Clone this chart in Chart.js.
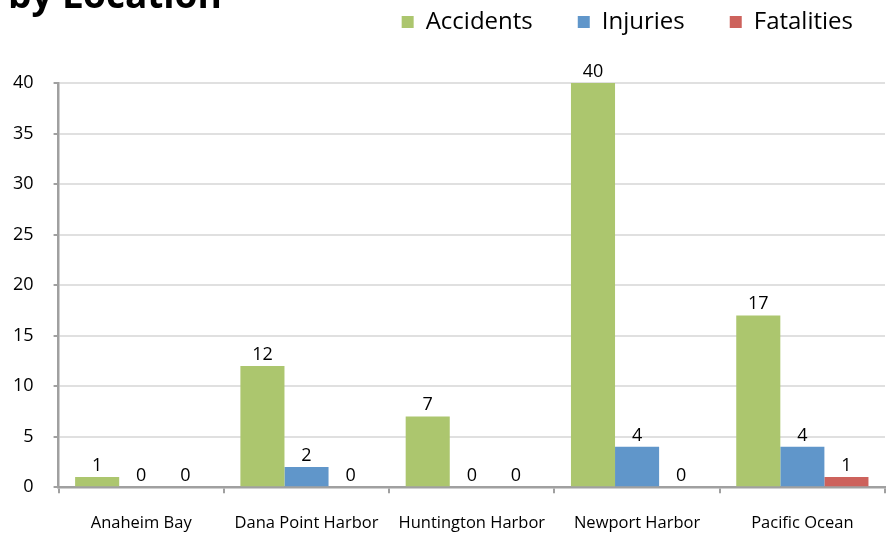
<!DOCTYPE html>
<html>
<head>
<meta charset="utf-8">
<script src="https://cdn.jsdelivr.net/npm/chart.js@4.4.1/dist/chart.umd.min.js"></script>
<style>
  html, body { margin: 0; padding: 0; background: #fff; overflow: hidden; }
  #wrap { position: relative; width: 894px; height: 534px; }
  #title {
    position: absolute; left: 8px; top: -25px;
    font: bold 37px/37px "Open Sans", sans-serif; color: #000; white-space: nowrap;
  }
</style>
</head>
<body>
<div id="wrap">
  <canvas id="myChart" width="894" height="534"></canvas>
  <div id="title">by Location</div>
</div>
<script>
// Chart data
const locations = ["Anaheim Bay", "Dana Point Harbor", "Huntington Harbor", "Newport Harbor", "Pacific Ocean"];
const accidents = [1, 12, 7, 40, 17];
const injuries = [0, 2, 0, 4, 4];
const fatalities = [0, 0, 0, 0, 1];
const yTicks = [0, 5, 10, 15, 20, 25, 30, 35, 40];

const fontName = '"Open Sans", sans-serif';

// Draw the value above each bar
const valueLabels = {
    id: "valueLabels",
    afterDatasetsDraw(chart) {
        const ctx = chart.ctx;
        ctx.save();
        ctx.font = "18px " + fontName;
        ctx.fillStyle = "#000";
        ctx.textAlign = "center";
        ctx.textBaseline = "alphabetic";
        chart.data.datasets.forEach((ds, i) => {
            chart.getDatasetMeta(i).data.forEach((bar, j) => {
                ctx.fillText(ds.data[j], bar.x, bar.y - 6);
            });
        });
        ctx.restore();
    }
};

// Move the legend up and right, where the original one sits
const legendShift = {
    id: "legendShift",
    afterLayout(chart) {
        const lg = chart.legend;
        lg.left += 13;
        lg.right += 13;
        lg.top -= 39;
        lg.bottom -= 39;
    }
};

const ctx = document.getElementById("myChart").getContext("2d");
const myChart = new Chart(ctx, {
    type: "bar",
    data: {
        labels: locations,
        datasets: [
            { label: "Accidents", data: accidents, backgroundColor: "#ACC66E" },
            { label: "Injuries", data: injuries, backgroundColor: "#6096CA" },
            { label: "Fatalities", data: fatalities, backgroundColor: "#CD625C" }
        ]
    },
    options: {
        responsive: false,
        animation: false,
        categoryPercentage: 0.8,
        barPercentage: 1.0,
        layout: { padding: { left: -7, right: 9, top: 4, bottom: -19 } },
        plugins: {
            legend: {
                position: "top",
                align: "end",
                labels: {
                    font: { family: fontName, size: 24 },
                    color: "#000",
                    boxWidth: 12,
                    boxHeight: 12,
                    padding: 45
                }
            },
            tooltip: { enabled: false }
        },
        scales: {
            x: {
                grid: {
                    drawOnChartArea: false,
                    tickColor: "#A0A0A0",
                    tickLength: 6,
                    lineWidth: 2
                },
                border: { color: "#A0A0A0", width: 2.5 },
                ticks: {
                    font: { family: fontName, size: 16.5 },
                    color: "#000",
                    padding: 20
                }
            },
            y: {
                min: 0,
                max: 40,
                afterBuildTicks(scale) {
                    scale.ticks = yTicks.map(v => ({ value: v }));
                },
                grid: {
                    color: "#E0E0E0",
                    lineWidth: 2,
                    tickColor: "#A0A0A0",
                    tickLength: 5
                },
                border: { color: "#A0A0A0", width: 2.5 },
                ticks: {
                    font: { family: fontName, size: 18 },
                    color: "#000",
                    padding: 20
                }
            }
        }
    },
    plugins: [valueLabels, legendShift]
});
</script>
</body>
</html>
